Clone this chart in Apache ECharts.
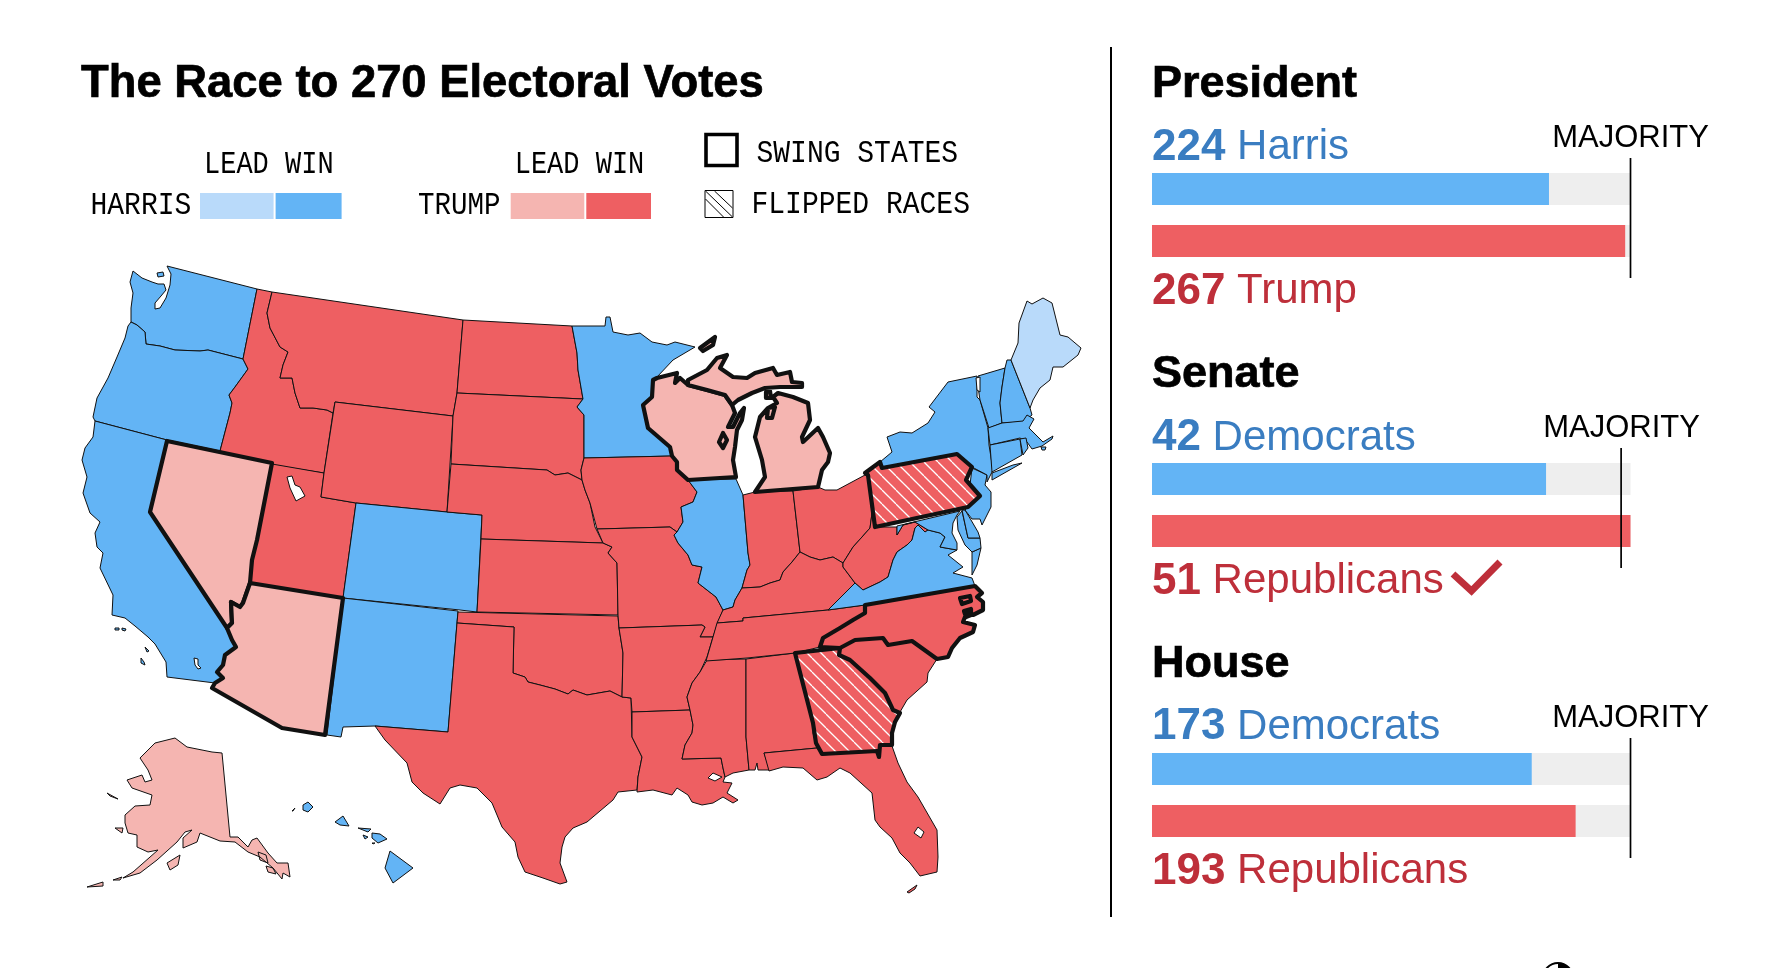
<!DOCTYPE html>
<html><head><meta charset="utf-8">
<style>html,body{margin:0;padding:0;background:#fff}#c{width:1772px;height:968px}</style>
<script src="https://cdn.jsdelivr.net/npm/echarts@6/dist/echarts.min.js"></script>
</head><body><div id="c"></div>
<script>
// ---------- data ----------
const harrisWin = ['Washington','Oregon','California','Colorado','New Mexico','Minnesota','Illinois','Virginia','New York','Vermont','New Hampshire','Massachusetts','Connecticut','Rhode Island','New Jersey','Delaware','Maryland','Hawaii'];
const harrisLead = ['Maine'];
const trumpWin = ['Idaho','Montana','Wyoming','Utah','North Dakota','South Dakota','Nebraska','Kansas','Oklahoma','Texas','Iowa','Missouri','Arkansas','Louisiana','Mississippi','Alabama','Tennessee','Kentucky','Indiana','Ohio','West Virginia','South Carolina','Florida','North Carolina','Georgia','Pennsylvania'];
const trumpLead = ['Nevada','Arizona','Wisconsin','Michigan','Alaska'];
const swingStates = ['Nevada','Arizona','Wisconsin','Michigan','Pennsylvania','North Carolina','Georgia'];
const flippedRaces = ['Pennsylvania','Georgia'];
const lakes = ['Great Salt Lake','Salton Sea','Lake Okeechobee','Lake Pontchartrain','Lake Champlain'];

const raceNames = ['President','Senate','House'];
const demCounts = [224,42,173];
const repCounts = [267,51,193];
const demNames = ['Harris','Democrats','Democrats'];
const repNames = ['Trump','Republicans','Republicans'];
const majorities = [270,50,218];
const scaleMax = [270,51,218];

// ---------- base map geometry (traced outlines, map units) ----------
const outlines = {
 'Washington':[[[133,271],[142,278],[152,282],[158,284],[164,284],[166,290],[161,296],[155,303],[155,309],[160,308],[166,298],[170,285],[171,274],[167,266],[257,289],[243,359],[208,350],[200,351],[175,350],[160,346],[146,344],[145,332],[137,325],[131,322],[131,308],[133,293],[130,282]],[[157,273],[163,272],[164,276],[158,277]]],
 'Oregon':[[[131,322],[137,325],[145,332],[146,344],[160,346],[175,350],[200,351],[208,350],[243,359],[248,369],[235,387],[229,395],[232,403],[230,413],[220,451],[167,440],[95,421],[93,417],[97,398],[108,378],[117,357],[125,338],[128,326]]],
 'California':[[[95,421],[167,440],[150,512],[227,628],[232,640],[236,647],[225,655],[223,665],[217,672],[223,678],[215,683],[167,677],[166,662],[155,644],[148,637],[135,626],[125,618],[112,615],[113,595],[100,568],[103,553],[97,547],[95,533],[100,522],[90,513],[83,493],[87,477],[82,460],[85,448],[93,437]],[[115,628],[119,628],[119,630],[115,630]],[[122,628],[126,629],[125,631],[122,630]],[[145,647],[149,651],[147,652]],[[141,658],[144,662],[145,665],[141,663]]],
 'Idaho':[[[257,289],[272,292],[267,313],[270,328],[280,347],[288,352],[283,365],[280,378],[292,378],[295,393],[300,408],[313,408],[327,410],[333,413],[324,473],[272,465],[220,451],[230,413],[232,403],[229,395],[235,387],[248,369],[243,359]]],
 'Utah':[[[272,464],[324,473],[321,497],[356,503],[343,598],[250,583],[252,560],[257,540]]],
 'Montana':[[[272,292],[463,320],[457,393],[453,416],[335,402],[333,413],[327,410],[313,408],[300,408],[295,393],[292,378],[280,378],[283,365],[288,352],[280,347],[270,328],[267,313]]],
 'Wyoming':[[[335,402],[453,416],[447,512],[356,503],[321,497],[324,473]]],
 'Colorado':[[[356,503],[447,512],[482,515],[477,612],[460,610],[343,598]]],
 'New Mexico':[[[343,598],[458,611],[457,623],[448,732],[375,726],[343,727],[341,737],[327,735]]],
 'North Dakota':[[[463,320],[572,326],[577,353],[578,370],[583,399],[457,393]]],
 'South Dakota':[[[457,393],[583,399],[577,407],[584,415],[584,458],[581,470],[582,480],[568,473],[555,475],[547,470],[451,464],[453,416]]],
 'Nebraska':[[[451,464],[547,470],[555,475],[568,473],[582,480],[585,490],[590,503],[595,527],[603,543],[481,539],[482,515],[447,512]]],
 'Kansas':[[[481,539],[603,543],[612,547],[608,553],[617,563],[618,615],[477,612]]],
 'Oklahoma':[[[458,612],[618,616],[619,628],[623,653],[622,697],[610,691],[587,695],[573,690],[568,694],[555,689],[540,685],[528,682],[525,677],[513,673],[514,627],[457,623]]],
 'Texas':[[[457,623],[514,627],[513,673],[525,677],[528,682],[540,685],[555,689],[568,694],[573,690],[587,695],[610,691],[622,697],[631,698],[632,737],[642,757],[638,777],[637,790],[618,792],[613,800],[587,822],[573,828],[565,837],[562,847],[560,863],[567,882],[560,884],[543,878],[525,872],[518,857],[515,842],[502,827],[492,803],[477,788],[460,785],[450,788],[440,804],[423,793],[412,782],[407,763],[385,740],[375,726],[448,732]]],
 'Minnesota':[[[572,326],[605,326],[606,317],[610,317],[613,332],[628,335],[640,333],[652,342],[667,345],[675,342],[695,347],[673,360],[657,377],[653,380],[652,397],[643,405],[648,428],[670,447],[672,456],[584,458],[584,415],[577,407],[583,399],[578,370],[577,353]]],
 'Iowa':[[[584,458],[672,456],[677,462],[676,468],[688,480],[697,492],[693,502],[681,507],[683,522],[677,532],[670,527],[597,529],[590,503],[585,490],[582,480],[581,470]]],
 'Missouri':[[[597,529],[670,527],[677,532],[674,535],[678,543],[688,555],[692,565],[702,567],[698,583],[716,597],[723,610],[718,622],[713,637],[700,637],[705,627],[702,625],[619,628],[618,615],[617,563],[608,553],[612,547],[603,543]]],
 'Arkansas':[[[619,628],[702,625],[705,627],[700,637],[713,637],[707,657],[700,672],[692,683],[687,697],[690,710],[632,712],[631,698],[622,697],[623,653]]],
 'Louisiana':[[[632,712],[690,710],[693,725],[692,733],[685,745],[682,759],[721,758],[723,768],[725,777],[723,782],[732,783],[727,793],[738,800],[733,803],[723,797],[713,803],[702,805],[692,802],[688,795],[677,788],[672,795],[653,790],[637,792],[638,777],[642,757],[632,737]]],
 'Mississippi':[[[707,660],[746,659],[746,737],[749,770],[733,773],[725,777],[723,768],[721,758],[682,759],[685,745],[692,733],[693,725],[690,710],[687,697],[692,683],[700,672]]],
 'Alabama':[[[746,659],[795,653],[807,698],[813,722],[813,733],[817,748],[764,753],[770,770],[758,770],[757,763],[755,770],[749,770],[746,737]]],
 'Illinois':[[[688,480],[736,479],[743,495],[748,553],[750,565],[747,570],[742,588],[735,600],[733,607],[723,610],[716,597],[698,583],[702,567],[692,565],[688,555],[678,543],[674,535],[677,532],[683,522],[681,507],[693,502],[697,492]]],
 'Indiana':[[[743,495],[755,492],[793,491],[800,552],[792,562],[783,572],[780,580],[770,583],[760,587],[742,588],[747,570],[750,565],[748,553]]],
 'Ohio':[[[793,491],[818,487],[825,490],[837,490],[865,475],[868,477],[872,513],[870,528],[862,537],[853,547],[843,563],[833,557],[820,560],[810,557],[800,552]]],
 'Kentucky':[[[723,610],[733,607],[735,600],[742,588],[760,587],[770,583],[780,580],[783,572],[792,562],[800,552],[810,557],[820,560],[833,557],[843,563],[843,567],[855,583],[828,610],[743,618],[743,621],[717,623]]],
 'Tennessee':[[[717,623],[743,621],[743,618],[828,610],[865,605],[865,613],[853,620],[840,628],[823,638],[820,647],[795,653],[747,658],[706,661],[713,637]]],
 'West Virginia':[[[872,513],[876,527],[897,527],[897,535],[903,525],[915,522],[928,530],[925,532],[918,525],[915,528],[912,540],[907,545],[897,552],[893,560],[888,577],[880,582],[863,590],[855,583],[843,567],[843,563],[853,547],[862,537],[870,528]]],
 'Virginia':[[[828,610],[855,583],[863,590],[880,582],[888,577],[893,560],[897,552],[907,545],[912,540],[915,528],[918,525],[925,532],[928,530],[940,533],[945,537],[940,547],[957,550],[948,555],[963,567],[953,573],[972,578],[975,586],[865,605]],[[972,552],[981,548],[977,565],[972,575]]],
 'Maryland':[[[897,526],[960,511],[957,515],[953,523],[952,533],[957,543],[957,550],[940,547],[945,537],[940,533],[928,530],[915,522],[903,525],[897,535]],[[962,511],[968,538],[980,538],[981,548],[972,552],[965,545],[958,530],[957,517]]],
 'Delaware':[[[962,510],[968,538],[980,538],[978,532],[971,520],[965,510]]],
 'New Jersey':[[[972,468],[987,475],[985,485],[991,492],[991,507],[982,525],[980,519],[972,519],[965,510],[980,495],[970,485]]],
 'New York':[[[880,462],[892,452],[887,437],[900,432],[912,433],[928,423],[935,412],[929,407],[948,382],[977,376],[977,397],[980,400],[988,428],[989,445],[993,470],[987,482],[987,475],[972,467],[957,454],[882,468]],[[992,480],[1022,463],[1013,465],[992,473]]],
 'Vermont':[[[978,376],[1005,368],[1002,387],[1000,403],[1002,423],[989,428],[980,400],[978,387]]],
 'New Hampshire':[[[1005,368],[1007,360],[1011,360],[1030,408],[1032,415],[1023,422],[1002,423],[1000,403],[1002,387]]],
 'Maine':[[[1011,360],[1018,343],[1019,323],[1027,301],[1032,304],[1043,298],[1052,303],[1060,335],[1068,337],[1081,348],[1078,355],[1063,367],[1053,367],[1050,380],[1040,388],[1033,400],[1030,408]]],
 'Massachusetts':[[[988,428],[1002,423],[1023,421],[1027,415],[1034,419],[1029,428],[1038,437],[1043,442],[1053,436],[1052,439],[1042,446],[1032,449],[1027,442],[1020,438],[990,445]],[[1041,447],[1046,447],[1045,450],[1042,450]]],
 'Connecticut':[[[990,445],[1020,439],[1022,455],[992,472]]],
 'Rhode Island':[[[1020,439],[1026,438],[1028,448],[1023,455],[1022,455]]],
 'South Carolina':[[[840,648],[855,640],[883,638],[888,645],[912,641],[937,659],[928,673],[927,682],[907,700],[900,712],[893,710],[885,693],[870,678],[850,660],[839,655]]],
 'Florida':[[[817,748],[822,755],[877,751],[880,757],[880,745],[892,746],[898,763],[907,782],[918,797],[937,830],[938,857],[937,872],[920,876],[910,863],[900,853],[892,838],[880,827],[875,820],[872,793],[850,773],[840,768],[827,777],[817,780],[803,768],[783,767],[769,771],[764,753]],[[907,892],[917,885],[915,889],[909,893]]],
 'Alaska':[[[175,738],[187,747],[212,752],[222,753],[230,837],[238,837],[248,847],[252,840],[257,838],[268,853],[277,863],[288,863],[290,877],[283,873],[282,879],[273,868],[260,857],[248,852],[235,842],[220,841],[200,833],[197,842],[183,848],[183,838],[192,830],[185,832],[177,842],[157,860],[140,873],[123,878],[133,872],[158,850],[148,852],[137,847],[137,835],[128,833],[125,823],[125,815],[135,806],[150,805],[152,795],[132,788],[127,780],[142,775],[145,782],[152,780],[148,770],[140,758],[155,743]],[[167,863],[180,855],[178,865],[170,870]],[[107,793],[118,799],[110,796]],[[115,828],[123,828],[122,833]],[[87,887],[103,882],[103,886]],[[113,880],[122,877],[120,880]],[[258,852],[266,855],[268,863],[260,860]],[[266,866],[273,868],[276,874],[268,872]]],
 'Hawaii':[[[390,851],[413,868],[393,883],[385,868]],[[372,833],[380,834],[387,839],[378,843],[372,838]],[[358,828],[371,829],[368,832]],[[363,835],[368,837],[365,839]],[[372,843],[375,843],[373,844]],[[335,822],[343,816],[349,826],[340,825]],[[303,805],[308,802],[313,807],[308,812],[303,810]],[[292,811],[295,808],[293,811]]],
 'Great Salt Lake':[[[287,477],[292,476],[295,485],[300,487],[305,496],[296,501],[290,488]]],
 'Salton Sea':[[[194,658],[198,659],[198,665],[201,668],[198,669],[195,665]]],
 'Lake Okeechobee':[[[918,827],[924,832],[921,838],[914,833]]],
 'Lake Pontchartrain':[[[708,778],[713,773],[722,777],[715,781]]],
 'Lake Champlain':[[[976,378],[980,377],[980,392],[977,390]]],
 'Nevada':[[[167,441],[272,463],[257,540],[252,560],[250,583],[243,603],[240,607],[231,602],[232,623],[227,628],[150,512]]],
 'Arizona':[[[250,583],[343,598],[325,735],[282,728],[212,688],[215,683],[223,678],[217,672],[223,665],[225,655],[236,647],[232,640],[227,628],[232,623],[231,602],[240,607],[243,603]]],
 'Wisconsin':[[[657,378],[677,373],[675,383],[680,378],[688,385],[707,390],[725,395],[732,405],[735,413],[728,427],[733,427],[740,413],[744,408],[742,420],[737,430],[735,447],[733,460],[736,477],[688,480],[677,470],[677,462],[672,456],[670,447],[648,428],[643,405],[652,397],[653,380]],[[723,433],[727,440],[723,448],[719,442]]],
 'Michigan':[[[688,380],[707,370],[717,358],[727,355],[720,368],[733,377],[747,378],[755,373],[773,368],[777,375],[790,372],[792,382],[802,383],[802,387],[780,387],[765,388],[752,393],[738,400],[732,405],[725,395],[707,390],[688,385]],[[778,393],[793,397],[808,403],[810,420],[802,437],[803,442],[818,428],[823,437],[830,453],[828,462],[822,470],[818,487],[755,492],[765,477],[762,460],[755,437],[760,417],[768,408],[777,403],[773,397]],[[700,348],[715,337],[713,345],[703,351]],[[766,392],[770,391],[771,398],[766,398]],[[768,408],[775,407],[772,418],[767,418]]],
 'Pennsylvania':[[[868,475],[865,473],[880,462],[882,468],[957,454],[972,467],[966,480],[980,496],[968,507],[875,527]]],
 'North Carolina':[[[865,605],[975,586],[982,593],[977,597],[983,602],[983,610],[973,615],[967,612],[963,622],[975,625],[973,632],[960,638],[952,648],[948,657],[937,659],[912,641],[888,645],[883,638],[855,640],[840,648],[820,647],[823,638],[840,628],[853,620],[865,613]],[[960,598],[970,596],[971,601],[962,604]],[[964,611],[971,609],[971,615],[966,617]]],
 'Georgia':[[[795,653],[840,648],[839,655],[850,660],[870,678],[885,693],[893,710],[900,713],[895,722],[892,733],[892,745],[880,745],[879,757],[877,751],[822,754],[816,743],[813,723]]]
};
const mapFeatures = Object.keys(outlines).map(name => ({
  type:'Feature', properties:{name},
  geometry:{type:'MultiPolygon', coordinates: outlines[name].map(r => [r.concat([r[0]])])}
}));
echarts.registerMap('us', {type:'FeatureCollection', features: mapFeatures});

// ---------- styling ----------
const FONT = '"Liberation Sans", Arial, sans-serif';
const MONO = '"Liberation Mono", monospace';
const C = {blue:'#63B4F5', lblue:'#B9DAFA', red:'#EE5F62', pink:'#F5B5B1', tblue:'#3A7DC1', tred:'#BE2F3A', track:'#EEEEEE'};

function hatch(bg, fg, size, lw){
  const cv = document.createElement('canvas'); cv.width = cv.height = size;
  const g = cv.getContext('2d'); g.fillStyle = bg; g.fillRect(0,0,size,size);
  g.strokeStyle = fg; g.lineWidth = lw;
  [-size,0,size].forEach(o=>{g.beginPath();g.moveTo(o,0);g.lineTo(o+size,size);g.stroke();});
  return cv;
}
const flipTile = hatch(C.red,'#FFFFFF',14,1.3);

function fillFor(name){
  if (lakes.includes(name)) return '#FFFFFF';
  if (flippedRaces.includes(name)) return {image:flipTile, repeat:'repeat'};
  if (harrisWin.includes(name)) return C.blue;
  if (harrisLead.includes(name)) return C.lblue;
  if (trumpWin.includes(name)) return C.red;
  return C.pink;
}
const mapData = Object.keys(outlines).map(name => ({
  name, value:1,
  itemStyle:{areaColor:fillFor(name), borderColor:'#111',
    borderWidth: swingStates.includes(name) ? 4.2 : 1, borderJoin:'round'}
}));
let xs=[],ys=[];
Object.values(outlines).forEach(p=>p.forEach(r=>r.forEach(q=>{xs.push(q[0]);ys.push(q[1]);})));
const bx=[Math.min(...xs),Math.min(...ys),Math.max(...xs),Math.max(...ys)];

// ---------- panels ----------
const barLeft=1152, barWidth=478.5;
const panelTop=[163,453,743];      // top of each two-bar grid
const grids=[],xAxes=[],yAxes=[],series=[];
raceNames.forEach((r,i)=>{
  const k=grids.length;
  grids.push({left:barLeft,width:barWidth,top:panelTop[i],height:104});
  xAxes.push({gridIndex:k,type:'value',min:0,max:scaleMax[i],show:false});
  yAxes.push({gridIndex:k,type:'category',inverse:true,data:[demNames[i],repNames[i]],show:false});
  series.push({type:'bar',xAxisIndex:k,yAxisIndex:k,barWidth:32,barGap:'-100%',silent:true,
    itemStyle:{color:C.track},data:[scaleMax[i],scaleMax[i]]});
  series.push({type:'bar',xAxisIndex:k,yAxisIndex:k,barWidth:32,barGap:'-100%',silent:true,
    data:[{value:demCounts[i],itemStyle:{color:C.blue}},{value:repCounts[i],itemStyle:{color:C.red}}]});
  const m=grids.length;
  grids.push({left:barLeft,width:barWidth,top:panelTop[i]-5,height:120});
  xAxes.push({gridIndex:m,type:'value',min:0,max:scaleMax[i],show:false});
  yAxes.push({gridIndex:m,type:'value',min:0,max:1,show:false});
  series.push({type:'line',xAxisIndex:m,yAxisIndex:m,showSymbol:false,silent:true,clip:false,z:5,
    lineStyle:{color:'#000',width:1.7},data:[[majorities[i],0],[majorities[i],1]]});
});
series.push({type:'map',map:'us',projection:{project:p=>p,unproject:p=>p},
  left:bx[0],top:bx[1],width:bx[2]-bx[0],height:bx[3]-bx[1],
  roam:false,silent:true,selectedMode:false,label:{show:false},emphasis:{disabled:true},
  data:mapData});

// ---------- text & legend ----------
const T=(x,y,text,size,opt={})=>Object.assign({type:'text',x,y,silent:true,z:10,style:Object.assign({
  text,fontFamily:opt.mono?MONO:FONT,fontSize:size,fontWeight:opt.bold?'bold':'normal',
  fill:opt.color||'#000',align:opt.align||'left',verticalAlign:'middle'},opt.style||{})},
  opt.mono?{scaleY:1.13}:{});
const HEAVY={stroke:'#000',lineWidth:0.7};
const R=(x,y,w,h,fill,extra={})=>({type:'rect',silent:true,z:10,shape:{x,y,width:w,height:h},style:Object.assign({fill},extra)});
const L=(x1,y1,x2,y2,w,color='#000')=>({type:'line',silent:true,z:10,shape:{x1,y1,x2,y2},style:{stroke:color,lineWidth:w}});
const rich=(x,y,num,name,color)=>({type:'text',x,y,silent:true,z:10,style:{
  text:`{b|${num}}{r| ${name}}`,align:'left',verticalAlign:'middle',
  rich:{b:{fontFamily:FONT,fontWeight:'bold',fontSize:44,fill:color},
        r:{fontFamily:FONT,fontSize:42,fill:color}}}});

const g=[
 T(81,84.5,'The Race to 270 Electoral Votes',45.4,{bold:true,style:HEAVY}),
 T(204,165,'LEAD WIN',27,{mono:true}), T(514.7,165,'LEAD WIN',27,{mono:true}),
 T(90.5,206,'HARRIS',28,{mono:true}), T(418,206,'TRUMP',27.5,{mono:true}),
 R(200,193,73.6,26,C.lblue), R(275.6,193,66,26,C.blue),
 R(510.7,193,73.6,26,C.pink), R(586.3,193,64.7,26,C.red),
 R(706,134.5,31,31,'#fff',{stroke:'#000',lineWidth:3.6}),
 T(756.5,154,'SWING STATES',28,{mono:true}),
 R(705,190.5,28,27,'#fff',{stroke:'#000',lineWidth:1}),
 L(705.5,199,723.5,217,1),L(705.5,191,732.5,217,1),L(714.5,191,732.5,208,1),
 T(751.5,205,'FLIPPED RACES',28,{mono:true}),
 R(1110,47,2,870,'#000'),
 {type:'circle',silent:true,z:10,shape:{cx:1558,cy:978,r:15},style:{fill:'#fff',stroke:'#000',lineWidth:2}},
 {type:'sector',silent:true,z:11,shape:{cx:1558,cy:978,r:15,startAngle:-Math.PI/2,endAngle:0},style:{fill:'#000'}}
];
const headY=[84.5,374.5,664.5], demY=[147.5,438,727], repY=[291.5,581.5,871.5], majY=[138.5,428.5,718.5], majX=[1630.5,1621.5,1630.5];
raceNames.forEach((r,i)=>{
  g.push(T(1152,headY[i],r,45,{bold:true,style:HEAVY}));
  g.push(rich(1152,demY[i],demCounts[i],demNames[i],C.tblue));
  g.push(rich(1152,repY[i],repCounts[i],repNames[i],C.tred));
  g.push(T(majX[i],majY[i],'MAJORITY',31,{align:'center'}));
});
g.push({type:'polyline',silent:true,z:10,shape:{points:[[1453,574],[1471.5,591],[1500,562]]},
  style:{stroke:C.tred,lineWidth:7,fill:null}});

const chart=echarts.init(document.getElementById('c'),null,{renderer:'canvas',width:1772,height:968});
chart.setOption({animation:false,backgroundColor:'#fff',grid:grids,xAxis:xAxes,yAxis:yAxes,series,graphic:{elements:g}});
</script></body></html>
